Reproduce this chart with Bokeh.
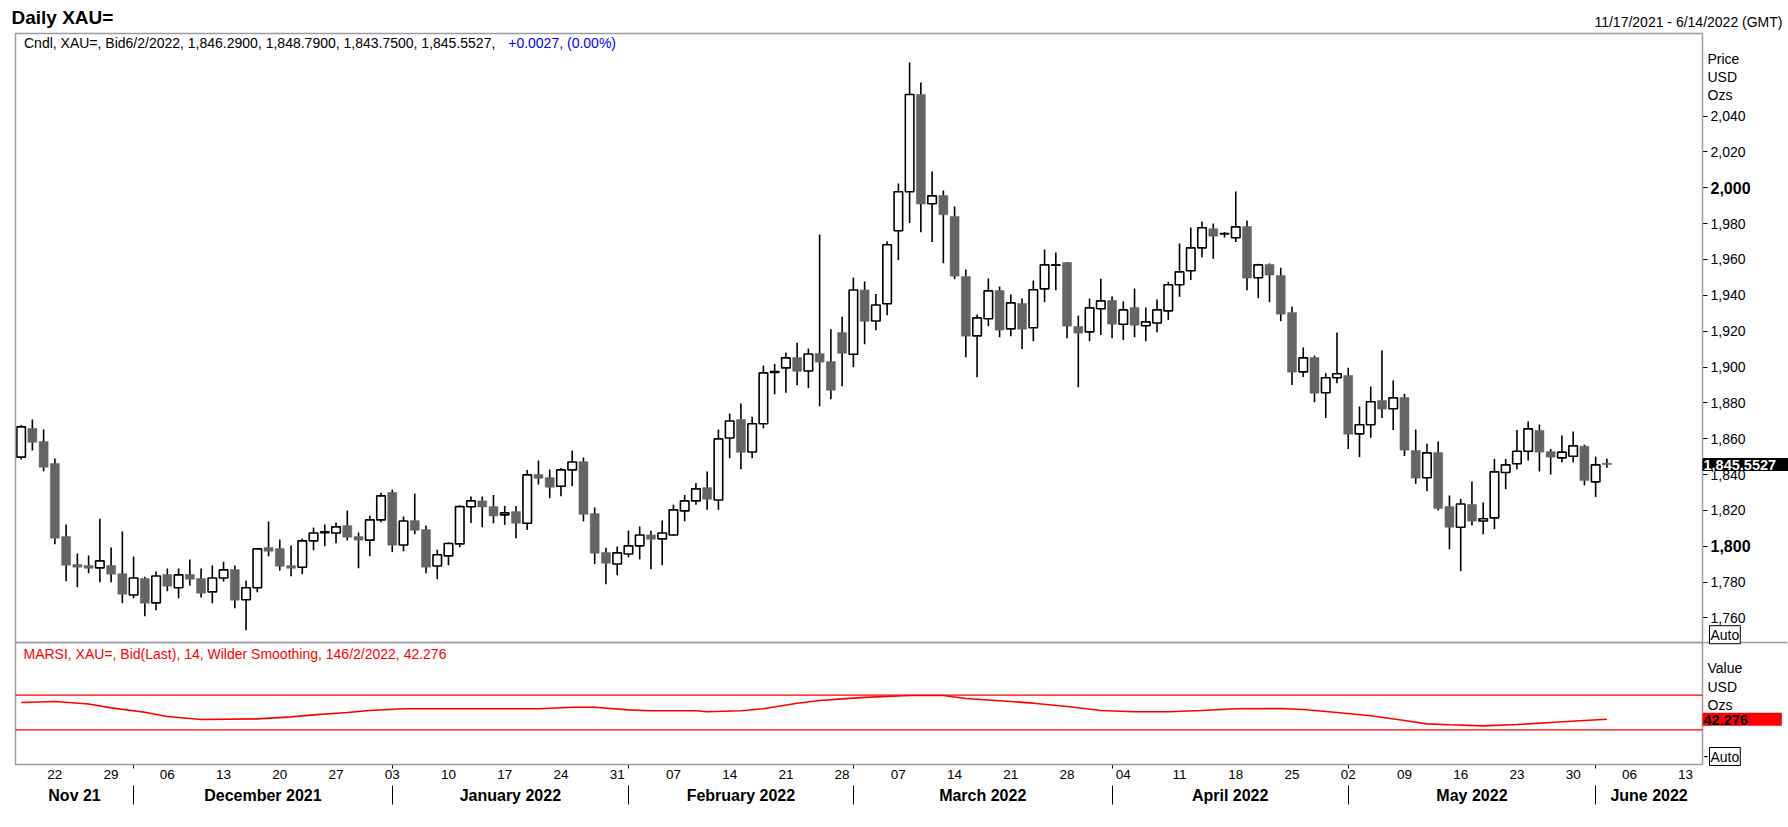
import pandas as pd
from bokeh.plotting import figure
from bokeh.models import (Range1d, LinearAxis, FixedTicker, NumeralTickFormatter,
                          Label, BoxAnnotation, ColumnDataSource)
from bokeh.embed import file_html
from bokeh.resources import INLINE

# ---------------- data ----------------
FIRST_DAY = "2021-11-17"
LAST_DAY = "2022-06-14"

OPEN = [1849.7, 1865.7, 1858.4, 1846.1, 1805.4, 1789.8, 1789.2, 1787.9, 1789.2, 1784.7,
        1772.8, 1782.0, 1768.4, 1784.2, 1776.8, 1784.2, 1782.0, 1774.5, 1782.3, 1787.0,
        1770.1, 1776.8, 1799.3, 1798.7, 1789.2, 1788.3, 1803.0, 1807.5, 1807.4, 1811.5,
        1805.4, 1803.4, 1814.7, 1830.0, 1800.7, 1814.3, 1809.3, 1789.0, 1794.6, 1801.3,
        1822.0, 1825.3, 1822.1, 1817.5, 1819.3, 1812.8, 1840.0, 1838.3, 1833.5, 1842.6,
        1847.2, 1818.2, 1796.5, 1790.1, 1795.7, 1800.2, 1806.3, 1804.1, 1806.3, 1819.7,
        1825.3, 1832.7, 1825.8, 1860.4, 1870.7, 1852.6, 1868.3, 1897.0, 1899.5, 1905.3,
        1897.8, 1907.5, 1903.0, 1919.2, 1907.1, 1943.0, 1925.7, 1935.3, 1976.0, 1997.8,
        2052.1, 1991.1, 1995.7, 1984.0, 1950.5, 1917.4, 1926.9, 1942.7, 1921.3, 1935.4,
        1921.9, 1943.6, 1956.8, 1958.3, 1922.6, 1919.6, 1932.5, 1937.1, 1923.9, 1933.2,
        1923.0, 1924.6, 1931.3, 1945.9, 1953.7, 1966.5, 1977.1, 1974.2, 1972.1, 1978.4,
        1949.8, 1957.2, 1951.1, 1930.4, 1897.3, 1905.3, 1885.6, 1894.0, 1895.3, 1862.7,
        1867.8, 1881.3, 1876.7, 1883.0, 1853.4, 1838.2, 1852.3, 1822.2, 1810.6, 1823.3,
        1814.1, 1815.8, 1841.1, 1846.0, 1853.0, 1864.6, 1852.8, 1849.3, 1850.2, 1855.8,
        1835.9, 1846.29]
HIGH = [1867.7, 1870.7, 1865.1, 1848.9, 1812.1, 1795.9, 1794.8, 1815.3, 1799.3, 1808.2,
        1794.2, 1782.9, 1785.9, 1787.5, 1787.5, 1792.6, 1787.5, 1789.2, 1791.4, 1789.2,
        1780.7, 1799.0, 1813.8, 1803.7, 1800.4, 1804.3, 1810.4, 1812.1, 1813.2, 1819.9,
        1807.6, 1817.1, 1829.8, 1831.6, 1816.6, 1829.4, 1811.5, 1798.1, 1802.2, 1822.9,
        1827.7, 1827.7, 1828.6, 1822.5, 1822.5, 1842.6, 1847.8, 1842.8, 1843.7, 1853.4,
        1849.5, 1821.6, 1799.2, 1799.8, 1808.7, 1811.0, 1808.7, 1814.3, 1823.2, 1828.6,
        1835.3, 1841.7, 1865.1, 1874.0, 1879.6, 1872.3, 1900.8, 1901.7, 1908.1, 1913.6,
        1910.3, 1973.9, 1921.1, 1928.1, 1949.9, 1947.8, 1940.8, 1970.0, 2002.4, 2069.9,
        2058.8, 2009.1, 1998.5, 1989.6, 1954.4, 1929.3, 1949.4, 1944.9, 1940.5, 1938.2,
        1948.3, 1965.6, 1963.9, 1958.6, 1928.7, 1938.2, 1949.2, 1939.3, 1936.6, 1943.8,
        1933.2, 1937.7, 1947.5, 1968.9, 1977.8, 1981.2, 1980.1, 1975.3, 1998.0, 1981.8,
        1957.6, 1957.8, 1955.4, 1933.8, 1910.9, 1906.4, 1896.6, 1919.3, 1899.6, 1878.0,
        1889.1, 1909.2, 1892.5, 1885.1, 1865.1, 1857.2, 1858.5, 1828.3, 1826.5, 1836.1,
        1824.4, 1848.7, 1848.7, 1864.9, 1869.6, 1867.9, 1854.3, 1861.8, 1864.0, 1856.7,
        1850.0, 1848.79]
LOW = [1848.4, 1853.4, 1841.9, 1801.1, 1780.5, 1777.1, 1784.9, 1779.9, 1779.9, 1768.2,
       1771.0, 1760.9, 1764.3, 1774.9, 1771.0, 1778.1, 1771.4, 1768.2, 1780.3, 1765.4,
       1753.1, 1774.3, 1794.4, 1786.4, 1783.3, 1784.4, 1797.8, 1800.0, 1801.7, 1803.2,
       1787.7, 1794.4, 1813.4, 1796.7, 1797.2, 1806.7, 1784.9, 1781.6, 1789.4, 1799.4,
       1813.0, 1810.6, 1812.8, 1811.9, 1804.4, 1809.1, 1834.4, 1826.8, 1827.9, 1833.5,
       1813.9, 1790.1, 1778.8, 1783.8, 1793.8, 1792.7, 1787.2, 1789.4, 1805.8, 1813.9,
       1823.2, 1820.3, 1820.3, 1849.1, 1843.0, 1849.1, 1865.8, 1884.8, 1885.7, 1889.8,
       1888.2, 1878.1, 1882.0, 1889.3, 1899.9, 1912.7, 1920.5, 1928.9, 1959.6, 1980.3,
       1975.2, 1969.7, 1957.9, 1949.0, 1905.5, 1894.3, 1922.8, 1916.6, 1917.2, 1910.0,
       1914.4, 1936.2, 1942.9, 1916.1, 1888.7, 1914.4, 1917.8, 1916.1, 1915.0, 1916.6,
       1914.4, 1919.4, 1926.3, 1939.2, 1948.6, 1961.3, 1960.4, 1972.3, 1969.7, 1942.9,
       1938.4, 1936.2, 1925.6, 1889.9, 1894.4, 1880.4, 1871.5, 1891.0, 1854.2, 1849.7,
       1860.5, 1871.5, 1864.8, 1850.3, 1834.8, 1830.7, 1819.9, 1798.3, 1786.1, 1811.5,
       1806.7, 1809.5, 1831.8, 1843.0, 1847.8, 1841.7, 1840.0, 1846.7, 1846.7, 1833.9,
       1827.4, 1843.75]
CLOSE = [1866.6, 1858.0, 1844.1, 1804.5, 1789.4, 1788.3, 1787.7, 1791.8, 1784.4, 1773.2,
         1782.3, 1768.2, 1783.4, 1777.7, 1784.0, 1781.6, 1773.8, 1782.3, 1786.8, 1769.9,
         1776.8, 1798.5, 1797.2, 1788.8, 1787.7, 1803.0, 1807.4, 1808.0, 1810.8, 1805.0,
         1803.4, 1814.7, 1828.1, 1800.6, 1814.1, 1808.9, 1788.3, 1795.2, 1801.5, 1822.1,
         1825.3, 1821.9, 1816.9, 1818.6, 1812.8, 1839.8, 1837.9, 1832.9, 1842.6, 1847.0,
         1817.8, 1796.1, 1790.5, 1796.3, 1800.2, 1806.3, 1803.9, 1807.4, 1820.3, 1825.3,
         1832.0, 1826.2, 1859.9, 1869.9, 1852.4, 1868.3, 1896.7, 1897.5, 1905.1, 1897.6,
         1907.3, 1902.7, 1887.0, 1907.7, 1943.0, 1925.5, 1934.6, 1968.2, 1997.8, 2052.1,
         1990.9, 1995.5, 1984.9, 1950.7, 1917.2, 1927.4, 1942.5, 1920.6, 1935.8, 1921.1,
         1943.1, 1957.0, 1957.0, 1922.8, 1918.9, 1933.0, 1936.9, 1923.9, 1931.9, 1923.3,
         1925.2, 1931.9, 1945.9, 1953.1, 1966.5, 1977.7, 1973.0, 1974.5, 1978.2, 1949.6,
         1957.0, 1951.3, 1929.5, 1897.1, 1905.1, 1885.4, 1894.0, 1896.2, 1862.5, 1867.8,
         1880.6, 1876.5, 1882.8, 1853.6, 1838.0, 1852.1, 1821.1, 1810.6, 1823.6, 1814.0,
         1815.3, 1841.5, 1845.4, 1853.0, 1865.5, 1852.5, 1849.7, 1852.5, 1856.0, 1836.7,
         1845.4, 1845.5527]

RSI_X = [0, 3, 6, 8, 11, 13, 16, 21, 24, 26, 29, 31, 34, 46, 49, 51, 54, 56, 60, 61,
         64, 66, 69, 71, 73, 75, 79, 82, 84, 88, 90, 93, 96, 99, 102, 105, 108, 112,
         114, 117, 120, 123, 125, 127, 130, 133, 136, 139, 141]
RSI_V = [61.6, 62.7, 59.8, 55.4, 50.3, 45.4, 41.9, 42.7, 45.0, 47.3, 50.0, 52.3, 54.3,
         54.3, 56.1, 56.1, 53.1, 52.0, 52.0, 50.8, 52.0, 54.3, 60.8, 63.9, 65.8, 67.5,
         69.6, 69.6, 66.2, 62.7, 60.8, 56.9, 52.3, 50.8, 50.8, 52.3, 54.3, 54.6, 53.5,
         50.0, 46.2, 40.7, 36.9, 35.8, 34.6, 36.1, 38.4, 40.7, 42.276]
RSI_LEVELS = [70, 30]

PRICE_TICKS = [1760, 1780, 1800, 1820, 1840, 1860, 1880, 1900, 1920, 1940, 1960,
               1980, 2000, 2020, 2040]
BOLD_TICKS = [1800, 2000]
MONTH_LABELS = ["Nov 21", "December 2021", "January 2022", "February 2022",
                "March 2022", "April 2022", "May 2022", "June 2022"]
LAST_PRICE = 1845.5527
LAST_RSI = 42.276

TITLE = "Daily XAU="
RANGE_TEXT = "11/17/2021 - 6/14/2022 (GMT)"
HEADER_BLACK = "Cndl, XAU=, Bid6/2/2022, 1,846.2900, 1,848.7900, 1,843.7500, 1,845.5527, "
HEADER_BLUE = "+0.0027, (0.00%)"
RSI_HEADER = "MARSI, XAU=, Bid(Last),  14, Wilder Smoothing, 146/2/2022, 42.276"

# ---------------- layout (canvas pixels) ----------------
FONT = "Liberation Sans"
GRAY = "#9c9ca6"
W, H = 1788, 827
FL, FR, FT, FB = 15, 1702, 33, 764      # candle / indicator area
SEP = 642                               # price / indicator separator
days = pd.bdate_range(FIRST_DAY, LAST_DAY)
n = len(days)
XR = (-0.5, n - 0.5)
PR = (1678.2, 2086.1)
RR = (-10.1, 835.0)


def X(px):
    return XR[0] + (px - FL) / (FR - FL) * (XR[1] - XR[0])


def P(py):
    return PR[1] - (py - FT) / (FB - FT) * (PR[1] - PR[0])


def R(py):
    return RR[1] - (py - FT) / (FB - FT) * (RR[1] - RR[0])


def js_key(v):
    s = repr(float(v))
    return s[:-2] if s.endswith(".0") else s


def overrides(ticks, labels):
    d = {}
    for t, l in zip(ticks, labels):
        d[float(t)] = l
        d[js_key(t)] = l
    return d


mondays = [i for i, d in enumerate(days) if d.weekday() == 0]
monday_labels = [days[i].strftime("%d") for i in mondays]
month_starts = [i for i in range(1, n) if days[i].month != days[i - 1].month]
bounds = [XR[0]] + month_starts + [XR[1]]
month_centers = [(a + b) / 2 for a, b in zip(bounds[:-1], bounds[1:])]

# frame covers the whole canvas; axes are fixed at the panel edges
p = figure(width=W, height=H, x_range=Range1d(X(0), X(W)), y_range=Range1d(P(H), P(0)),
           x_axis_type=None, y_axis_type=None, toolbar_location=None,
           output_backend="svg", min_border=0, outline_line_color=None,
           background_fill_color="white", border_fill_color="white")
p.title.visible = False
p.extra_y_ranges = {"rsi": Range1d(R(H), R(0))}

yax = LinearAxis(ticker=FixedTicker(ticks=PRICE_TICKS), fixed_location=X(FR),
                 formatter=NumeralTickFormatter(format="0,0"),
                 major_label_overrides=overrides(BOLD_TICKS, ["", ""]),
                 major_tick_out=5, major_tick_in=0, minor_tick_out=0, minor_tick_in=0,
                 axis_line_color=None, major_tick_line_color="black",
                 major_label_text_font=FONT, major_label_text_font_size="14px",
                 major_label_text_color="black", major_label_standoff=3)
p.add_layout(yax, "right")

xax1 = LinearAxis(ticker=FixedTicker(ticks=mondays, minor_ticks=month_starts),
                  fixed_location=P(FB),
                  major_label_overrides=overrides(mondays, monday_labels),
                  major_tick_out=0, major_tick_in=0, minor_tick_out=4, minor_tick_in=0,
                  minor_tick_line_color="black", axis_line_color=None,
                  major_label_text_font=FONT, major_label_text_font_size="13.5px",
                  major_label_text_color="black", major_label_standoff=1)
p.add_layout(xax1, "below")

xax2 = LinearAxis(ticker=FixedTicker(ticks=month_centers, minor_ticks=month_starts),
                  fixed_location=P(784.5),
                  major_label_overrides=overrides(month_centers, MONTH_LABELS),
                  major_tick_out=0, major_tick_in=0, minor_tick_out=19, minor_tick_in=0,
                  minor_tick_line_color="black", minor_tick_line_width=1,
                  axis_line_color=None,
                  major_label_text_font=FONT, major_label_text_font_size="16px",
                  major_label_text_font_style="bold", major_label_text_color="black",
                  major_label_standoff=-17)
p.add_layout(xax2, "below")

# panel boxes
for top, bot in [(FT, SEP), (SEP, FB)]:
    p.add_layout(BoxAnnotation(left=XR[0], right=XR[1], top=P(top), bottom=P(bot),
                               fill_color=None, line_color=GRAY, line_alpha=1,
                               line_width=1.5))
p.add_layout(BoxAnnotation(left=XR[1], right=X(W - 1), top=P(SEP), bottom=P(SEP),
                           fill_color=None, line_color=GRAY, line_alpha=1,
                           line_width=1.5))

# candles
xs = list(range(len(OPEN)))
up = [c >= o for o, c in zip(OPEN, CLOSE)]
src_up = ColumnDataSource(dict(x=[x for x, u in zip(xs, up) if u],
                               top=[c for c, u in zip(CLOSE, up) if u],
                               bottom=[o for o, u in zip(OPEN, up) if u]))
src_dn = ColumnDataSource(dict(x=[x for x, u in zip(xs, up) if not u],
                               top=[o for o, u in zip(OPEN, up) if not u],
                               bottom=[c for c, u in zip(CLOSE, up) if not u]))
p.segment(x0=xs, y0=LOW, x1=xs, y1=HIGH, line_color="black", line_width=1.6)
p.vbar(x="x", top="top", bottom="bottom", width=0.76, source=src_up,
       fill_color="white", line_color="black", line_width=1.6)
p.vbar(x="x", top="top", bottom="bottom", width=0.8, source=src_dn,
       fill_color="#646464", line_color="#646464", line_width=0.5)

# RSI
for lv in RSI_LEVELS:
    p.add_layout(BoxAnnotation(left=XR[0], right=XR[1], top=lv, bottom=lv,
                               y_range_name="rsi", fill_color=None,
                               line_color="#ff0000", line_alpha=1, line_width=1.3))
p.line(RSI_X, RSI_V, y_range_name="rsi", line_color="#ff0000", line_width=1.6)


def lab(text, px, y, size="14px", color="black", bold=False, align="left",
        yr="default", **kw):
    l = Label(x=X(px), y=y, text=text, text_font=FONT, text_font_size=size,
              text_color=color, text_font_style="bold" if bold else "normal",
              text_align=align, text_baseline="middle", y_range_name=yr, **kw)
    p.add_layout(l)
    return l


lab(TITLE, 11, P(17), size="19px", bold=True)
lab(RANGE_TEXT, 1782, P(21), size="14px", align="right")
lab(HEADER_BLACK, 23.5, P(42.5), size="14px")
lab(HEADER_BLUE, 507.7, P(42.5), size="14px", color="#0000ff")
lab(RSI_HEADER, 23, P(653), size="14px", color="#ff0000")

for t in BOLD_TICKS:
    lab(f"{t:,}", 1710, t, size="16px", bold=True)

for txt, py in zip(["Price", "USD", "Ozs"], [58.5, 76.5, 94.5]):
    lab(txt, 1707, P(py))
for txt, py in zip(["Value", "USD", "Ozs"], [667.5, 686.5, 704]):
    lab(txt, 1707, P(py))

lab("Auto", 1709, P(634.2), background_fill_color="white", border_line_color="black",
    padding=1)
lab("Auto", 1709, P(756), background_fill_color="white", border_line_color="black",
    padding=1)
lab("-", 1703, P(755.5))

lab(f"{LAST_PRICE:,.4f}", 1702, LAST_PRICE, size="14.5px", color="white", bold=True,
    background_fill_color="black", padding=dict(left=1, right=12, top=2, bottom=1))
lab(f"{LAST_RSI:.3f}", 1702, LAST_RSI, size="14.5px", color="black", bold=True,
    background_fill_color="#ff0000", padding=dict(left=1, right=34, top=2, bottom=1),
    yr="rsi")

open("out.html", "w").write(file_html(p, INLINE))
